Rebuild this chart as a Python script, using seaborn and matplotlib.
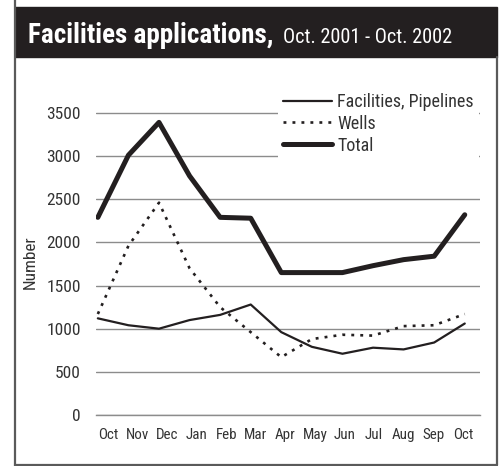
import numpy as np
import pandas as pd
import matplotlib
matplotlib.use('Agg')
import matplotlib.pyplot as plt
import seaborn as sns
from matplotlib.lines import Line2D
from matplotlib.patches import Rectangle
from matplotlib.transforms import offset_copy

# Data (Oct 2001 - Oct 2002)
months = ['Oct', 'Nov', 'Dec', 'Jan', 'Feb', 'Mar', 'Apr',
          'May', 'Jun', 'Jul', 'Aug', 'Sep', 'Oct']
facilities = [1120, 1040, 1000, 1100, 1160, 1280, 960, 790, 710, 780, 760, 840, 1060]
wells = [1170, 1960, 2460, 1700, 1250, 960, 670, 880, 930, 920, 1030, 1040, 1170]
total = [2290, 3010, 3390, 2770, 2290, 2280, 1650, 1650, 1650, 1730, 1800, 1840, 2320]
y_ticks = [0, 500, 1000, 1500, 2000, 2500, 3000, 3500]

df = pd.DataFrame({
    'pos': np.arange(len(months)),
    'Facilities, Pipelines': facilities,
    'Wells': wells,
    'Total': total,
})

sns.set_style('white')
plt.rcParams['font.family'] = ['Roboto Condensed', 'DejaVu Sans Condensed', 'DejaVu Sans']

ink = '#231f20'
text_c = '#333333'
grid_c = '#8c8c8c'

fig = plt.figure(figsize=(4.99, 4.66), dpi=100)
ax = fig.add_axes([0.1924, 0.1094, 0.7696, 0.7039])

sns.lineplot(data=df, x='pos', y='Facilities, Pipelines', ax=ax, color=ink,
             linewidth=1.6, label='Facilities, Pipelines')
sns.lineplot(data=df, x='pos', y='Wells', ax=ax, color=ink,
             linewidth=1.9, linestyle=(0, (1.1, 2.3)), label='Wells')
sns.lineplot(data=df, x='pos', y='Total', ax=ax, color=ink,
             linewidth=3.6, label='Total')

ax.set_xlim(-0.06, 12.5)
ax.set_ylim(0, 3800)
ax.set_yticks(y_ticks)
ax.set_yticklabels([str(v) for v in y_ticks], fontsize=12.5, color=text_c)
ax.yaxis.grid(True, color=grid_c, linewidth=1.0)
ax.set_axisbelow(True)

# month labels sit between the little tick marks
ax.set_xticks(np.linspace(0.33, 11.94, len(months)))
ax.set_xticklabels(months, fontsize=10.8, color=text_c)
ax.set_xticks(np.linspace(-0.04, 12.47, len(months) + 1), minor=True)
ax.tick_params(axis='x', which='major', length=0, pad=9)
ax.tick_params(axis='x', which='minor', direction='in', length=7.5,
               width=1.0, color=grid_c)
ax.tick_params(axis='y', length=0, pad=11)

ax.set_xlabel('')
ax.set_ylabel('Number', fontsize=12.3, color=text_c)
ax.yaxis.set_label_coords(-0.151, 0.466)

for side in ['top', 'right', 'left']:
    ax.spines[side].set_visible(False)
ax.spines['bottom'].set_color(grid_c)
ax.spines['bottom'].set_linewidth(1.0)

leg = ax.legend(loc='upper left', bbox_to_anchor=(0.5563, 0.8124),
                bbox_transform=fig.transFigure, frameon=True, fancybox=False,
                facecolor='white', edgecolor='none', framealpha=1,
                fontsize=13, handlelength=2.7, handletextpad=0.3,
                labelspacing=0.22, borderpad=0.3, borderaxespad=0)
for t in leg.get_texts():
    t.set_color(text_c)

# header band and outer frame
fig.add_artist(Rectangle((0.030, 0.8777), 0.966, 0.1073,
                         transform=fig.transFigure, color=ink, zorder=0))
frame_c = '#5a5a5a'
fig.add_artist(Line2D([0.030, 0.030], [0.0, 1.0], transform=fig.transFigure,
                      color=frame_c, linewidth=1.6))
fig.add_artist(Line2D([0.030, 0.996], [0.003, 0.003], transform=fig.transFigure,
                      color=frame_c, linewidth=1.6))
fig.add_artist(Line2D([0.996, 0.996], [0.003, 0.8777], transform=fig.transFigure,
                      color=frame_c, linewidth=1.6))

head = fig.text(0.056, 0.9077, 'Facilities applications,', color='white',
                fontsize=19.5, fontweight='bold', va='baseline', ha='left')
fig.canvas.draw()
x_end = fig.transFigure.inverted().transform(
    (head.get_window_extent().x1, 0))[0]
fig.text(x_end, 0.9077, 'Oct. 2001 - Oct. 2002', color='white',
         fontsize=14.6, va='baseline', ha='left',
         transform=offset_copy(fig.transFigure, fig=fig, x=10, units='dots'))

fig.savefig('out.png', dpi=100)
